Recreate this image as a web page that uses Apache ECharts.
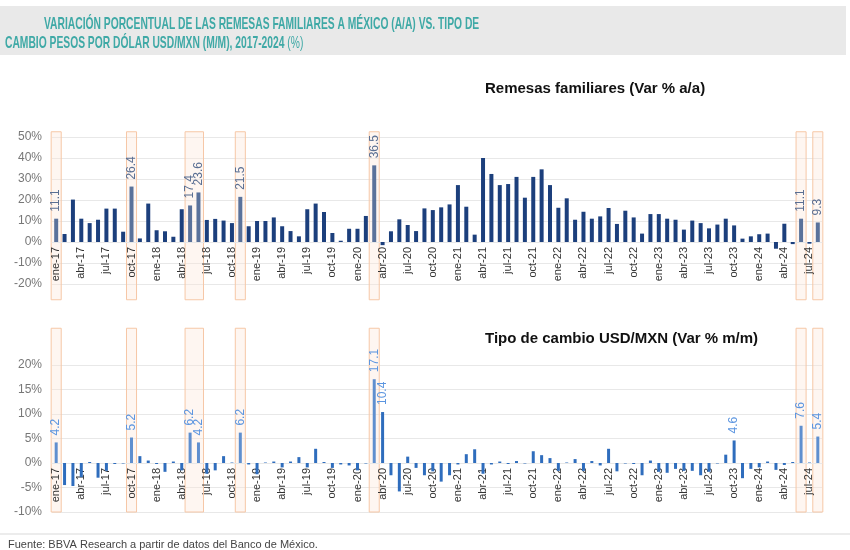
<!DOCTYPE html>
<html>
<head>
<meta charset="utf-8">
<script src="https://cdn.jsdelivr.net/npm/echarts@6/dist/echarts.min.js"></script>
<style>
html,body{margin:0;padding:0;background:#fff;}
#chart{width:850px;height:550px;}
</style>
</head>
<body>
<div id="chart"></div>
<script>
// ---- data ----
const monthNames = ['ene','feb','mar','abr','may','jun','jul','ago','sep','oct','nov','dic'];
const years = ['17','18','19','20','21','22','23','24'];
const lastMonthCount = 8; // 2024 runs to ago-24
const categories = [];
years.forEach((y, yi) => {
  const n = (yi === years.length - 1) ? lastMonthCount : 12;
  for (let m = 0; m < n; m++) categories.push(monthNames[m] + '-' + y);
});

const remesas = [
  11.1, 3.8, 20.2, 11.1, 9.0, 10.6, 15.9, 15.9, 4.9, 26.4, 1.7, 18.3,
  5.6, 5.1, 2.5, 15.6, 17.4, 23.6, 10.5, 11.0, 10.2, 9.0, 21.5, 7.5,
  10.0, 10.0, 11.7, 7.5, 5.2, 2.7, 15.6, 18.3, 14.3, 4.3, 0.6, 6.3,
  6.3, 12.4, 36.5, -1.5, 5.1, 10.8, 8.1, 5.2, 16.0, 15.2, 16.5, 17.9,
  27.1, 16.8, 3.5, 40.0, 32.4, 27.1, 27.6, 31.0, 21.1, 31.0, 34.6, 27.1,
  16.3, 20.8, 10.6, 14.4, 11.1, 12.2, 16.2, 8.6, 14.9, 11.7, 4.0, 13.3,
  13.3, 11.1, 10.6, 5.9, 10.2, 9.0, 6.5, 8.3, 11.1, 7.9, 1.6, 2.7,
  3.7, 4.0, -3.2, 8.7, -1.0, 11.1, -0.8, 9.3
];

const tipoCambio = [
  4.2, -4.5, -4.7, -2.9, 0.2, -3.0, -1.6, -0.2, -0.1, 5.2, 1.4, 0.5,
  -0.2, -1.8, 0.3, -1.5, 6.2, 4.2, -2.2, -1.5, 1.4, 0.1, 6.2, -0.3,
  -2.3, 0.1, 0.3, -0.9, 0.3, 1.2, -0.9, 2.9, 0.2, -1.0, -0.3, -0.5,
  -1.5, -0.1, 17.1, 10.4, -2.5, -5.8, 1.3, -1.0, -2.5, -1.7, -3.8, -2.5,
  -0.3, 1.8, 2.8, -2.2, -0.3, 0.3, -0.2, 0.4, -0.1, 2.4, 1.6, 1.0,
  -1.6, 0.1, 0.8, -1.6, 0.4, -0.5, 2.9, -1.7, -0.1, -0.2, -2.5, 0.5,
  -1.8, -2.0, -1.2, -1.6, -1.6, -2.5, -1.8, -0.1, 1.7, 4.6, -3.1, -1.2,
  -0.9, 0.3, -1.4, -0.4, 0.2, 7.6, 0.1, 5.4
];

// highlighted month ranges (start, end category)
const highlightRanges = [
  ['ene-17','ene-17'], ['oct-17','oct-17'], ['may-18','jun-18'], ['nov-18','nov-18'],
  ['mar-20','mar-20'], ['jun-24','jun-24'], ['ago-24','ago-24']
];
const topLabelMonths = ['ene-17','oct-17','may-18','jun-18','nov-18','mar-20','jun-24','ago-24'];
const bottomLabelMonths = ['ene-17','oct-17','may-18','jun-18','nov-18','mar-20','abr-20','oct-23','jun-24','ago-24'];

const yTopTicks = { min: -20, max: 50, interval: 10 };
const yBotTicks = { min: -10, max: 20, interval: 5 };

// ---- chart ----
const FONT = '"Liberation Sans", Arial, sans-serif';
const chart = echarts.init(document.getElementById('chart'), null, {renderer: 'canvas'});

const GRID_H = 147;
const grids = [
  { left: 52, right: 28, top: 137, height: GRID_H },
  { left: 52, right: 28, top: 365, height: GRID_H }
];
// distance from grid bottom up to the zero line, derived from the axis range
function zeroOffset(t) { return -GRID_H * (0 - t.min) / (t.max - t.min); }

const hlSet = new Set();
highlightRanges.forEach(r => {
  const a = categories.indexOf(r[0]), b = categories.indexOf(r[1]);
  for (let i = a; i <= b; i++) hlSet.add(categories[i]);
});

function barData(vals, labelMonths, normalColor, hlColor, labelColor) {
  return vals.map((v, i) => {
    const c = categories[i];
    const item = { value: v, itemStyle: { color: hlSet.has(c) ? hlColor : normalColor } };
    if (labelMonths.indexOf(c) >= 0) {
      item.label = {
        show: true, position: 'top', rotate: 90, align: 'left', verticalAlign: 'middle',
        distance: 7, color: labelColor, fontSize: 12, fontFamily: FONT,
        formatter: (p) => p.value.toFixed(1)
      };
    }
    return item;
  });
}

function boxSeries(xIdx, yIdx, yHi, yLo) {
  return {
    type: 'custom', xAxisIndex: xIdx, yAxisIndex: yIdx, z: 0, silent: true, clip: false,
    data: highlightRanges.map(r => [categories.indexOf(r[0]), categories.indexOf(r[1])]),
    renderItem: function (params, api) {
      const a = api.value(0), b = api.value(1);
      const p1 = api.coord([a, yHi]);
      const p2 = api.coord([b, yLo]);
      const bw = api.size([1, 0])[0];
      const x = p1[0] - bw * 0.6;
      const w = (p2[0] - p1[0]) + bw * 1.2;
      return {
        type: 'rect',
        shape: { x: x, y: p1[1], width: w, height: p2[1] - p1[1] },
        style: { fill: 'rgba(252,228,214,0.35)', stroke: '#f6c7a6', lineWidth: 1 }
      };
    }
  };
}

function xAxis(gridIndex, ticks) {
  return {
    gridIndex: gridIndex,
    type: 'category', data: categories, boundaryGap: true,
    position: 'bottom',
    offset: zeroOffset(ticks),
    axisLine: { show: true, onZero: false, lineStyle: { color: '#e8e8e8' } },
    axisTick: { show: false },
    axisLabel: {
      rotate: 90, fontSize: 11, color: '#333', fontFamily: FONT, margin: 5,
      interval: (idx) => idx % 3 === 0
    },
    splitLine: { show: false }
  };
}
function yAxis(gridIndex, ticks) {
  return Object.assign({
    gridIndex: gridIndex,
    type: 'value',
    axisLine: { show: false }, axisTick: { show: false },
    axisLabel: { formatter: '{value}%', fontSize: 12, color: '#777', fontFamily: FONT, margin: 10 },
    splitLine: { show: true, lineStyle: { color: '#e8e8e8', width: 1 } }
  }, ticks);
}

const NARROW = '"Liberation Sans Narrow", "Arial Narrow", "Liberation Sans", sans-serif';
const option = {
  animation: false,
  backgroundColor: '#fff',
  grid: grids,
  xAxis: [xAxis(0, yTopTicks), xAxis(1, yBotTicks)],
  yAxis: [yAxis(0, yTopTicks), yAxis(1, yBotTicks)],
  series: [
    boxSeries(0, 0, 52.5, -27.5),
    boxSeries(1, 1, 27.5, -10),
    {
      type: 'bar', xAxisIndex: 0, yAxisIndex: 0, barWidth: 4, z: 2,
      data: barData(remesas, topLabelMonths, '#1c3f7c', '#5a729b', '#5a6f93')
    },
    {
      type: 'bar', xAxisIndex: 1, yAxisIndex: 1, barWidth: 3, z: 2,
      data: barData(tipoCambio, bottomLabelMonths, '#2f6dbd', '#5f8fcf', '#5b95e0')
    }
  ],
  graphic: [
    { type: 'rect', left: 0, top: 6, shape: { width: 846, height: 49 }, style: { fill: '#e9e9e9' }, z: -1 },
    { type: 'text', x: 44, y: 16, scaleX: 0.605,
      style: { text: 'VARIACIÓN PORCENTUAL DE LAS REMESAS FAMILIARES A MÉXICO (A/A) VS. TIPO DE',
        fill: '#3fa9a6', font: 'bold 17px ' + NARROW } },
    { type: 'text', x: 5, y: 35, scaleX: 0.605,
      style: { text: '{b|CAMBIO PESOS POR DÓLAR USD/MXN (M/M), 2017-2024 }{n|(%)}',
        rich: {
          b: { fill: '#3fa9a6', font: 'bold 17px ' + NARROW },
          n: { fill: '#3fa9a6', font: '17px ' + NARROW }
        } } },
    { type: 'text', left: 485, top: 81,
      style: { text: 'Remesas familiares (Var % a/a)', fill: '#111', font: 'bold 15px ' + FONT } },
    { type: 'text', left: 485, top: 331,
      style: { text: 'Tipo de cambio USD/MXN (Var % m/m)', fill: '#111', font: 'bold 15px ' + FONT } },
    { type: 'line', shape: { x1: 0, y1: 534, x2: 850, y2: 534 }, style: { stroke: '#d9d9d9', lineWidth: 1 } },
    { type: 'text', left: 8, top: 539,
      style: { text: 'Fuente: BBVA Research a partir de datos del Banco de México.', fill: '#444', font: '11px ' + FONT } }
  ]
};
chart.setOption(option);
</script>
</body>
</html>
